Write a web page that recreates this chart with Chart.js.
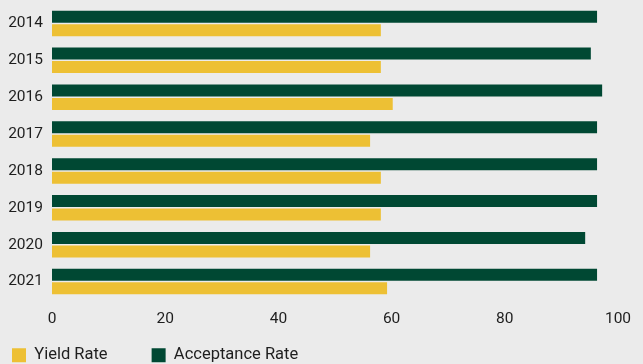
<!DOCTYPE html>
<html>
<head>
<meta charset="utf-8">
<script src="https://cdn.jsdelivr.net/npm/chart.js@4.4.1/dist/chart.umd.min.js"></script>
<style>
  html, body { margin: 0; padding: 0; background: #ebebeb; }
  #wrap { width: 643px; height: 364px; }
</style>
</head>
<body>
<div id="wrap"><canvas id="rates" width="643" height="364"></canvas></div>
<script>
const years = ['2014', '2015', '2016', '2017', '2018', '2019', '2020', '2021'];
const acceptanceRate = [96.3, 95.2, 97.2, 96.3, 96.3, 96.3, 94.2, 96.3];
const yieldRate = [58.1, 58.1, 60.2, 56.2, 58.1, 58.1, 56.2, 59.2];
const xTicks = [0, 20, 40, 60, 80, 100];

const green = '#004833';
const yellow = '#edc034';
const textColor = '#1e1e1e';
const fontFamily = "Roboto, 'Liberation Sans', sans-serif";

// the legend padding is wide to space the two items, which also pushes it down; lift it back up
const legendLift = {
    id: 'legendLift',
    afterLayout(chart) {
        const legend = chart.legend;
        legend.top -= 27;
        legend.bottom -= 27;
    }
};

new Chart(document.getElementById('rates').getContext('2d'), {
    type: 'bar',
    data: {
        labels: years,
        datasets: [
            { label: 'Acceptance Rate', data: acceptanceRate, backgroundColor: green, borderWidth: 0 },
            { label: 'Yield Rate', data: yieldRate, backgroundColor: yellow, borderWidth: 0 }
        ]
    },
    options: {
        indexAxis: 'y',
        responsive: false,
        animation: false,
        datasets: { bar: { categoryPercentage: 0.73, barPercentage: 0.89 } },
        layout: { padding: { left: -32, right: 25, top: 5, bottom: -36.5 } },
        scales: {
            x: {
                min: 0, max: 100,
                afterBuildTicks: (scale) => { scale.ticks = xTicks.map(v => ({ value: v })); },
                grid: { display: false, drawTicks: false },
                border: { display: false },
                ticks: { padding: 10, color: textColor, font: { family: fontFamily, size: 15.5 } },
                afterFit: (scale) => {
                    scale.height = 30;
                    scale.paddingLeft = 0;
                    scale.paddingRight = 0;
                }
            },
            y: {
                grid: { display: false, drawTicks: false },
                border: { display: false },
                ticks: { padding: 9, color: textColor, font: { family: fontFamily, size: 15.5 } },
                afterFit: (scale) => {
                    scale.width = 84;
                    scale.paddingTop = 0;
                    scale.paddingBottom = 0;
                }
            }
        },
        plugins: {
            legend: {
                position: 'bottom',
                align: 'start',
                reverse: true,
                labels: {
                    boxWidth: 14, boxHeight: 14, padding: 44,
                    color: textColor,
                    font: { family: fontFamily, size: 16.5 }
                }
            },
            tooltip: { enabled: false }
        }
    },
    plugins: [legendLift]
});
</script>
</body>
</html>
